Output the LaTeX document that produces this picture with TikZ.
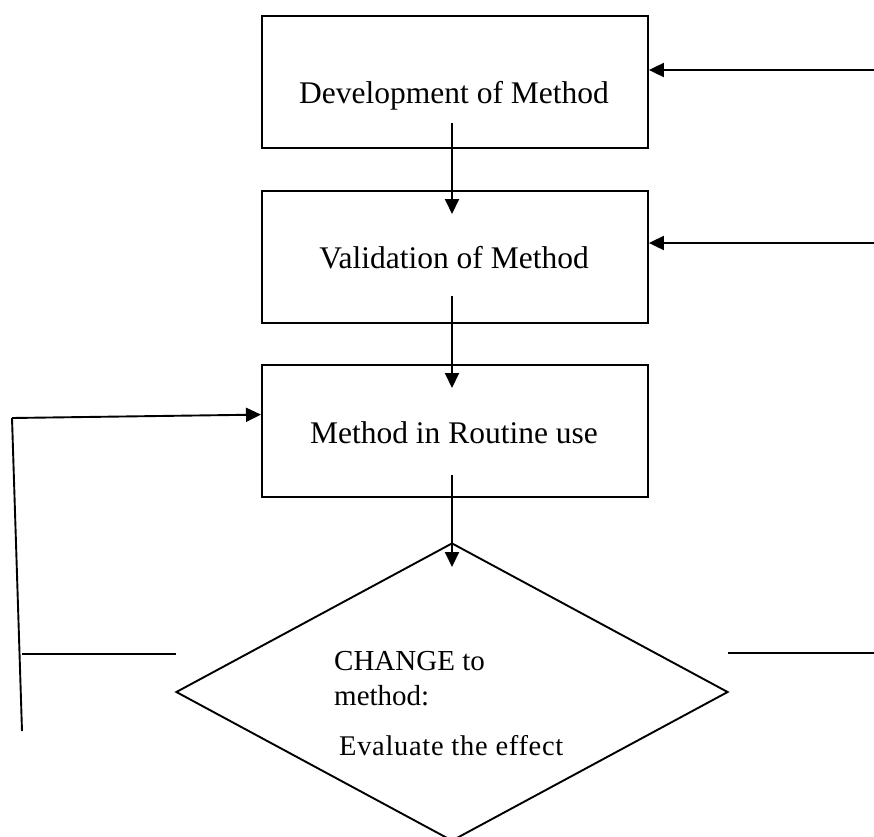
\documentclass[tikz,border=0pt]{standalone}
\usepackage{fontspec}
\setmainfont{Liberation Serif}
\usetikzlibrary{arrows.meta,shapes.geometric}
\tikzset{
  boxnode/.style={draw, line width=1.9pt, minimum width=386pt, minimum height=132pt, inner sep=0pt, anchor=north west},
  boxtext/.style={anchor=base, inner sep=0pt, font=\fontsize{31.5}{36}\selectfont},
  dtext/.style={anchor=base west, inner sep=0pt, font=\fontsize{29}{33}\selectfont},
  conn/.style={line width=1.9pt, -{Triangle[length=15pt,width=14pt]}},
  plain/.style={line width=1.9pt}
}
\begin{document}
\begin{tikzpicture}[x=1pt,y=-1pt]
\useasboundingbox (0,0) rectangle (874,836);
\clip (0,0) rectangle (874,836);
% boxes
\node[boxnode] (b1) at (261,15) {};
\node[boxnode] (b2) at (261,190) {};
\node[boxnode] (b3) at (261,364) {};
\node[boxtext] (t1) at (454,103) {Development of Method};
\node[boxtext] (t2) at (454,268) {Validation of Method};
\node[boxtext] (t3) at (454,443) {Method in Routine use};
% diamond
\node[draw, diamond, line width=1.9pt, minimum width=552pt, minimum height=298pt, inner sep=0pt] (d) at (452,692) {};
\node[dtext] (d1) at (334,670) {CHANGE to};
\node[dtext] (d2) at (334,705) {method:};
\node[dtext, font=\fontsize{28.5}{33}\selectfont\addfontfeature{LetterSpace=2.4}] (d3) at (339,755) {Evaluate the effect};
% vertical connectors
\coordinate (s1) at (452,123);
\coordinate (e1) at (452,214);
\coordinate (s2) at (452,296);
\coordinate (e2) at (452,388);
\coordinate (s3) at (452,475);
\coordinate (e3) at (452,567);
\draw[conn] (s1) -- (e1);
\draw[conn] (s2) -- (e2);
\draw[conn] (s3) -- (e3);
% right feedback arrows
\coordinate (r1) at (874,70);
\coordinate (r2) at (874,243);
\draw[conn] (r1) -- (b1.east |- r1);
\draw[conn] (r2) -- (b2.east |- r2);
% right line from diamond
\coordinate (r3) at (874,653);
\draw[plain] (728,653) -- (r3);
% left loop
\coordinate (lTop) at (12,418);
\coordinate (lBot) at (22,731);
\coordinate (lMid) at (22,654);
\coordinate (lEnd) at (176,654);
\draw[conn] (lTop) -- (b3.west |- 0,414.6);
\draw[plain] (lTop) -- (lBot);
\draw[plain] (lMid) -- (lEnd);
\end{tikzpicture}
\end{document}
